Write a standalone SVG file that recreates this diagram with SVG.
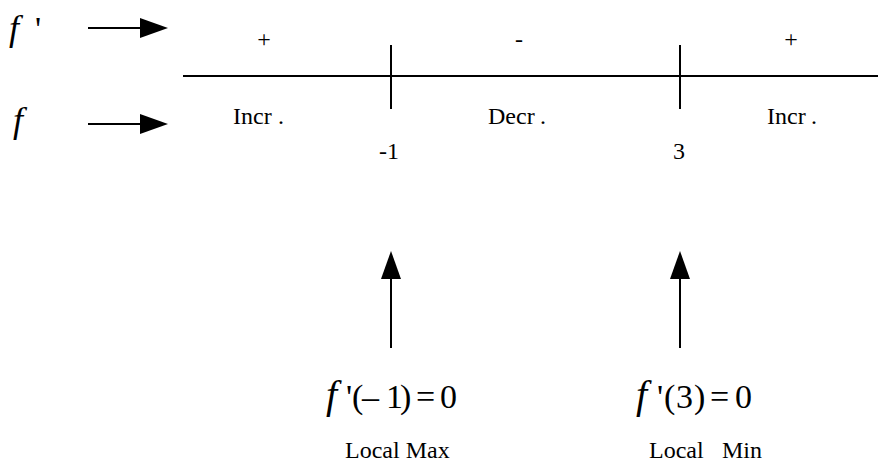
<svg xmlns="http://www.w3.org/2000/svg" width="878" height="462" viewBox="0 0 878 462">
<style>
.ln{stroke:#000;stroke-width:2;fill:none}
.hd{fill:#000}
</style>
<rect width="878" height="462" fill="#fff"/>
<g id="label-fprime">
<text x="9" y="40" font-family="Liberation Serif" font-size="36" font-style="italic">f</text>
<text x="35" y="40" font-family="Liberation Serif" font-size="34">'</text>
</g>
<g id="label-f"><text x="13" y="132" font-family="Liberation Serif" font-size="36" font-style="italic">f</text></g>
<g id="numberline">
<line class="ln" x1="183" y1="76" x2="878" y2="76"/>
<line class="ln" x1="391" y1="45" x2="391" y2="109"/>
<line class="ln" x1="680" y1="45" x2="680" y2="109"/>
</g>
<g id="signs">
<text x="264" y="47" font-family="Liberation Serif" font-size="24" text-anchor="middle">+</text>
<text x="519" y="47" font-family="Liberation Serif" font-size="24" text-anchor="middle">-</text>
<text x="791" y="47" font-family="Liberation Serif" font-size="24" text-anchor="middle">+</text>
</g>
<g id="behaviour">
<text x="233" y="124" font-family="Liberation Serif" font-size="24">Incr<tspan x="278">.</tspan></text>
<text x="488" y="124" font-family="Liberation Serif" font-size="24">Decr<tspan x="540">.</tspan></text>
<text x="767" y="124" font-family="Liberation Serif" font-size="24">Incr<tspan x="811">.</tspan></text>
</g>
<g id="points">
<text x="389" y="159" font-family="Liberation Serif" font-size="24" text-anchor="middle">-1</text>
<text x="679" y="159" font-family="Liberation Serif" font-size="24" text-anchor="middle">3</text>
</g>
<g id="connectors">
<line class="ln" x1="88" y1="28" x2="142" y2="28"/>
<polygon class="hd" points="140,18 168,28 140,38"/>
<line class="ln" x1="88" y1="124" x2="142" y2="124"/>
<polygon class="hd" points="140,114 168,124 140,134"/>
<line class="ln" x1="391" y1="348" x2="391" y2="276"/>
<polygon class="hd" points="381,279 391,251 401,279"/>
<line class="ln" x1="680" y1="348" x2="680" y2="276"/>
<polygon class="hd" points="670,279 680,251 690,279"/>
</g>
<g id="eq-max">
<text x="326" y="408" font-family="Liberation Serif" font-size="40" font-style="italic">f</text>
<text y="408" font-family="Liberation Serif" font-size="34"><tspan x="346">'</tspan><tspan x="352">(</tspan><tspan x="362">–</tspan><tspan x="386">1</tspan><tspan x="400">)</tspan><tspan x="416">=</tspan><tspan x="440">0</tspan></text>
</g>
<g id="eq-min">
<text x="636" y="408" font-family="Liberation Serif" font-size="40" font-style="italic">f</text>
<text y="408" font-family="Liberation Serif" font-size="34"><tspan x="657">'</tspan><tspan x="664">(</tspan><tspan x="676">3</tspan><tspan x="694">)</tspan><tspan x="710">=</tspan><tspan x="735">0</tspan></text>
</g>
<g id="local-max"><text x="345" y="458" font-family="Liberation Serif" font-size="24">Local Max</text></g>
<g id="local-min"><text x="649" y="458" font-family="Liberation Serif" font-size="24">Local<tspan x="722">Min</tspan></text></g>
</svg>
